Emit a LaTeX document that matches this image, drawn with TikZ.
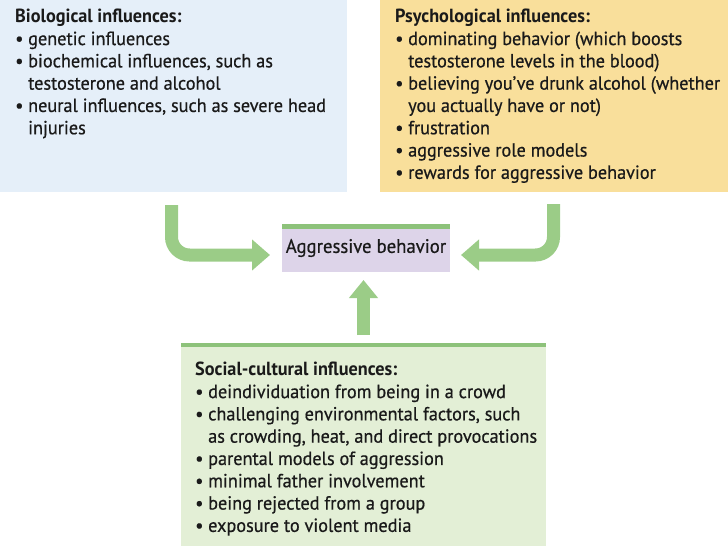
\documentclass[tikz,border=0pt]{standalone}
\usepackage{fontspec}
\setmainfont[FakeStretch=0.96, UprightFeatures={FakeBold=0.6}]{PT Sans}
\usetikzlibrary{positioning,arrows.meta}

\definecolor{biofill}{HTML}{E5EFF9}
\definecolor{psyfill}{HTML}{F9DF9B}
\definecolor{aggfill}{HTML}{DDD4E9}
\definecolor{socfill}{HTML}{E3EFD6}
\definecolor{stripegreen}{HTML}{8DC27A}
\definecolor{arrowgreen}{HTML}{9BCC87}
\definecolor{inkdark}{HTML}{1A1A1A}

\tikzset{panel/.style = {inner sep = 0, outer sep = 0, anchor = north west}}
\tikzset{listtext/.style = {anchor = north west, align = left, inner sep = 0, text = inkdark,
                            font = \fontsize{19}{22.3}\selectfont}}
\tikzset{flow/.style = {draw = arrowgreen, line width = 13pt, rounded corners = 18pt,
                        -{Triangle[width = 30pt, length = 18pt]}}}

\newcommand{\itm}{\makebox[13pt][l]{\textbullet}}
\newcommand{\cnt}{\hspace*{13pt}}

\begin{document}
\begin{tikzpicture}[x = 1pt, y = -1pt]
      \useasboundingbox (0, 0) rectangle (728, 546);

      % the four panels
      \node [panel, fill = biofill, minimum width = 347pt, minimum height = 192pt] (bio) at (0, 0) {};
      \node [panel, fill = psyfill, minimum width = 348pt, minimum height = 192pt] (psy) at (380, 0) {};
      \node [panel, fill = aggfill, minimum width = 168pt, minimum height = 48pt, text = inkdark,
             font = \fontsize{19.5}{22.3}\selectfont] (agg) at (282, 224) {Aggressive behavior};
      \node [panel, fill = socfill, minimum width = 365pt, minimum height = 203pt] (soc) at (181, 343) {};

      \fill [stripegreen] (agg.north west) rectangle ([yshift = -5pt] agg.north east);
      \fill [stripegreen] (soc.north west) rectangle ([yshift = -4pt] soc.north east);

      % lists
      \node [listtext] (biotext) at ([xshift = 15pt, yshift = -9pt] bio.north west)
            {\textbf{Biological influences:}\\
             \itm genetic influences\\
             \itm biochemical influences, such as\\
             \cnt testosterone and alcohol\\
             \itm neural influences, such as severe head\\
             \cnt injuries};
      \node [listtext] (psytext) at ([xshift = 15pt, yshift = -9pt] psy.north west)
            {\textbf{Psychological influences:}\\
             \itm dominating behavior (which boosts\\
             \cnt testosterone levels in the blood)\\
             \itm believing you’ve drunk alcohol (whether\\
             \cnt you actually have or not)\\
             \itm frustration\\
             \itm aggressive role models\\
             \itm rewards for aggressive behavior};
      \node [listtext] (soctext) at ([xshift = 14pt, yshift = -19pt] soc.north west)
            {\textbf{Social-cultural influences:}\\
             \itm deindividuation from being in a crowd\\
             \itm challenging environmental factors, such\\
             \cnt as crowding, heat, and direct provocations\\
             \itm parental models of aggression\\
             \itm minimal father involvement\\
             \itm being rejected from a group\\
             \itm exposure to violent media};

      % arrows into the behaviour box
      \draw [flow] ([xshift = 171.5pt, yshift = -13pt] bio.south west) |- ([xshift = -12pt, yshift = -7pt] agg.west);
      \draw [flow] ([xshift = -174.5pt, yshift = -12pt] psy.south east) |- ([xshift = 11pt, yshift = -7pt] agg.east);
      \draw [flow, -{Triangle[width = 28pt, length = 18pt]}] ([yshift = 8pt] soc.north) -- ([yshift = -8pt] soc.north |- agg.south);
\end{tikzpicture}
\end{document}
